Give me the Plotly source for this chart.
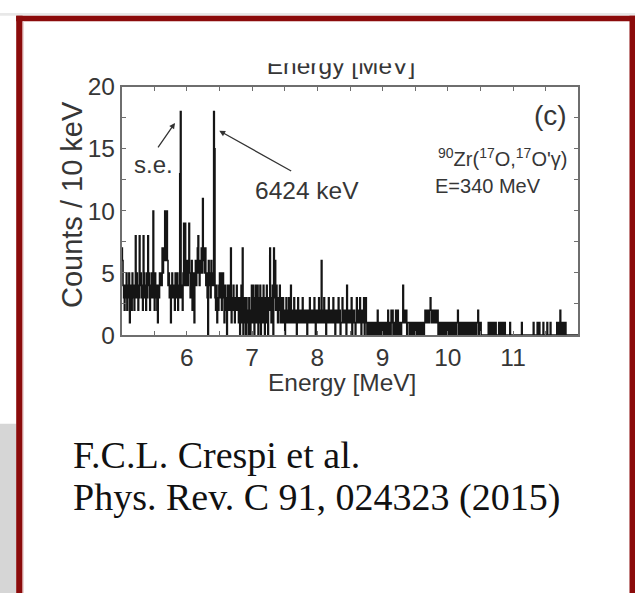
import plotly.graph_objects as go

# ---------------- data (counts per 10 keV bin) ----------------
energy_start_mev = 5.00
bin_width_mev = 0.01

counts_5 = [7, 6, 4, 3, 2, 4, 3, 5, 2, 4,
            3, 5, 1, 4, 3, 2, 5, 4, 3, 2,
            4, 8, 3, 5, 4, 2, 3, 8, 4, 5,
            3, 4, 2, 8, 5, 3, 4, 2, 5, 3,
            8, 4, 5, 2, 3, 4, 5, 3, 10, 4,
            2, 5, 3, 4, 2, 1, 4, 3, 5, 4,
            5, 4, 7, 5, 6, 7, 10, 6, 7, 10,
            6, 4, 5, 3, 4, 1, 3, 5, 4, 3,
            4, 2, 5, 3, 4, 5, 2, 4, 3, 13,
            18, 3, 4, 2, 5, 9, 4, 9, 5, 4]
counts_6 = [6, 4, 5, 9, 5, 3, 4, 6, 2, 5,
            4, 1, 5, 6, 4, 5, 7, 8, 5, 4,
            6, 5, 7, 5, 11, 6, 7, 5, 7, 4,
            5, 3, 0, 6, 4, 5, 3, 6, 4, 5,
            4, 18, 15, 3, 2, 4, 1, 3, 2, 4,
            5, 3, 5, 2, 4, 5, 3, 1, 4, 2,
            3, 0, 4, 2, 3, 4, 2, 7, 1, 3,
            2, 4, 3, 1, 3, 2, 4, 2, 3, 1,
            3, 0, 2, 4, 1, 7, 0, 2, 3, 1,
            0, 3, 1, 2, 0, 3, 1, 0, 2, 4]
counts_7 = [1, 4, 2, 0, 3, 4, 1, 2, 4, 0,
            3, 1, 4, 0, 2, 3, 1, 4, 2, 0,
            3, 1, 4, 2, 0, 3, 2, 7, 3, 1,
            2, 4, 0, 7, 3, 6, 2, 4, 3, 1,
            3, 2, 4, 1, 3, 2, 1, 3, 2, 1,
            0, 2, 3, 1, 2, 1, 3, 2, 1, 4,
            1, 2, 2, 1, 3, 1, 2, 1, 0, 2,
            3, 1, 2, 1, 2, 2, 1, 3, 2, 1,
            2, 1, 1, 2, 0, 2, 1, 2, 3, 1,
            1, 2, 2, 1, 2, 3, 1, 0, 2, 1]
counts_8 = [2, 1, 3, 1, 2, 1, 6, 2, 1, 1,
            3, 1, 2, 0, 1, 2, 1, 3, 1, 2,
            1, 2, 1, 2, 3, 1, 2, 0, 2, 1,
            2, 1, 3, 1, 2, 0, 1, 1, 3, 2,
            1, 2, 1, 2, 0, 4, 2, 1, 2, 1,
            2, 1, 3, 0, 2, 1, 2, 1, 0, 1,
            3, 1, 1, 2, 1, 3, 2, 0, 1, 2,
            1, 3, 0, 2, 3, 1, 0, 1, 1, 0,
            1, 0, 1, 1, 0, 1, 0, 1, 1, 0,
            1, 0, 2, 1, 0, 1, 1, 0, 1, 0]
counts_9 = [1, 1, 0, 1, 0, 1, 1, 0, 2, 1,
            0, 1, 0, 2, 1, 2, 0, 1, 1, 0,
            2, 1, 0, 2, 1, 0, 1, 1, 0, 1,
            1, 4, 2, 1, 2, 1, 2, 0, 1, 1,
            1, 0, 1, 1, 0, 1, 0, 1, 1, 0,
            1, 0, 1, 0, 1, 1, 0, 1, 0, 1,
            0, 1, 1, 0, 1, 2, 1, 2, 1, 2,
            2, 1, 2, 3, 2, 1, 2, 1, 2, 2,
            1, 2, 2, 1, 2, 0, 1, 0, 1, 1,
            0, 1, 1, 0, 1, 1, 0, 1, 1, 0]
counts_10 = [1, 0, 1, 1, 0, 0, 1, 0, 1, 0,
             1, 0, 0, 1, 1, 2, 0, 1, 1, 0,
             1, 1, 0, 1, 0, 1, 0, 1, 1, 0,
             1, 0, 1, 0, 1, 1, 0, 1, 0, 1,
             0, 1, 1, 0, 1, 1, 2, 0, 1, 0,
             1, 0, 0, 0, 0, 0, 0, 0, 0, 0,
             0, 0, 1, 0, 1, 0, 1, 0, 1, 0,
             1, 0, 1, 1, 0, 0, 0, 0, 1, 0,
             1, 0, 1, 0, 0, 1, 0, 1, 0, 0,
             0, 0, 0, 0, 0, 1, 0, 0, 0, 0]
counts_11 = [0, 0, 0, 0, 0, 0, 0, 0, 0, 0,
             0, 0, 0, 1, 0, 0, 0, 0, 0, 0,
             0, 0, 0, 0, 0, 0, 0, 0, 0, 0,
             0, 1, 0, 0, 0, 0, 0, 1, 0, 0,
             1, 0, 0, 0, 0, 0, 1, 0, 0, 0,
             0, 0, 1, 0, 0, 0, 0, 1, 0, 0,
             0, 0, 0, 0, 0, 0, 0, 1, 0, 1,
             1, 0, 2, 1, 0, 1, 0, 0, 1, 0,
             1, 0, 0, 0, 0, 0, 0, 0, 0, 0,
             0, 0, 0, 0, 0, 0, 0, 0, 0, 0]

x_tick_vals = [6, 7, 8, 9, 10, 11]
y_tick_vals = [0, 5, 10, 15, 20]

# ---------------- build step histogram ----------------
counts = counts_5 + counts_6 + counts_7 + counts_8 + counts_9 + counts_10 + counts_11
edges = [round(energy_start_mev + bin_width_mev * i, 4) for i in range(len(counts) + 1)]
ystep = counts + [counts[-1]]

W, H = 635, 607
def px(x):
    return x / W
def py(y):
    return 1 - y / H

SANS = "Liberation Sans, Arial, sans-serif"
SERIF = "Liberation Serif, Times New Roman, serif"
TXT = "#363636"
AX = "#6e6e6e"

fig = go.Figure()
fig.add_trace(go.Scatter(x=edges, y=ystep, mode="lines",
                         line=dict(shape="hv", color="#151515", width=1.6),
                         hoverinfo="skip", showlegend=False))

# clipped title above the frame (cut off in the original figure)
fig.add_trace(go.Scatter(x=[341], y=[57.5], mode="text", text=["Energy [MeV]"],
                         textfont=dict(family=SANS, size=24.5, color=TXT),
                         xaxis="x2", yaxis="y2", cliponaxis=True,
                         hoverinfo="skip", showlegend=False))

axis_common = dict(showline=True, linecolor=AX, linewidth=1.8, mirror="allticks",
                   ticks="inside", ticklen=4, tickcolor=AX, tickwidth=1.3,
                   showgrid=False, zeroline=False,
                   tickfont=dict(family=SANS, size=24.5, color=TXT))

fig.update_layout(
    width=W, height=H, margin=dict(l=0, r=0, t=0, b=0),
    paper_bgcolor="white", plot_bgcolor="white",
    showlegend=False,
    xaxis=dict(domain=[px(121.7), px(578.3)], range=[5, 12], tickvals=x_tick_vals,
               minor=dict(dtick=0.5, tick0=5, ticks="inside", ticklen=4, tickcolor=AX, tickwidth=1.3),
               anchor="y", **axis_common),
    yaxis=dict(domain=[py(337), py(77.3)], range=[0, 20], tickvals=y_tick_vals,
               minor=dict(dtick=2.5, tick0=0, ticks="inside", ticklen=4, tickcolor=AX, tickwidth=1.3),
               anchor="x", **axis_common),
    xaxis2=dict(domain=[0, 1], range=[0, W], visible=False, anchor="y2"),
    yaxis2=dict(domain=[py(75), py(52.7)], range=[75, 52.7], visible=False, anchor="x2"),
)

shapes = [
    dict(type="rect", xref="paper", yref="paper", x0=0, x1=px(16.5), y0=py(607), y1=py(430),
         fillcolor="#d6d6d6", line=dict(width=0), layer="below"),
    dict(type="rect", xref="paper", yref="paper", x0=0, x1=1, y0=py(3), y1=1,
         fillcolor="#e8e8e8", line=dict(width=0), layer="below"),
    dict(type="rect", xref="paper", yref="paper", x0=px(16.2), x1=1, y0=py(8.6), y1=py(3),
         fillcolor="#8b0b0b", line=dict(width=0)),
    dict(type="rect", xref="paper", yref="paper", x0=px(16.2), x1=px(22.6), y0=0, y1=py(3),
         fillcolor="#8b0b0b", line=dict(width=0)),
    dict(type="rect", xref="paper", yref="paper", x0=px(22.6), x1=px(23.8), y0=0, y1=py(8.6),
         fillcolor="#e9cccc", line=dict(width=0)),
    dict(type="rect", xref="paper", yref="paper", x0=px(629.5), x1=1, y0=0, y1=py(3),
         fillcolor="#8b0b0b", line=dict(width=0)),
]
fig.update_layout(shapes=shapes)

ann = []
def text(t, x, y, size, xanchor="center", color=TXT, family=SANS, angle=0):
    ann.append(dict(text=t, x=px(x), y=py(y), xref="paper", yref="paper", showarrow=False,
                    xanchor=xanchor, yanchor="middle", textangle=angle,
                    font=dict(family=family, size=size, color=color)))

text("Counts / 10 keV", 72, 201, 29, angle=-90)
text("Energy [MeV]", 342, 387, 24.5)
text("(c)", 550, 107.5, 28)
text("<sup>90</sup>Zr(<sup>17</sup>O,<sup>17</sup>O'γ)", 502, 151, 20)
text("E=340 MeV", 433, 181.5, 20, xanchor="left")
text("6424 keV", 253, 186, 24.5, xanchor="left")
text("s.e.", 153.3, 158.5, 24)
text("F.C.L. Crespi et al.", 71, 463, 38, xanchor="left", color="#111111", family=SERIF)
text("Phys. Rev. C 91, 024323 (2015)", 71, 507, 38, xanchor="left", color="#111111", family=SERIF)

def arrow(hx, hy, tx, ty):
    ann.append(dict(text="", x=px(hx), y=py(hy), xref="paper", yref="paper",
                    showarrow=True, ax=tx - hx, ay=ty - hy, axref="pixel", ayref="pixel",
                    arrowhead=2, arrowsize=0.9, arrowwidth=1.3, arrowcolor="#333333",
                    standoff=0, startstandoff=0))

arrow(175, 115, 157, 141)
arrow(219.3, 123.3, 292.7, 164.3)

fig.update_layout(annotations=ann)
fig.write_html("out.html")
